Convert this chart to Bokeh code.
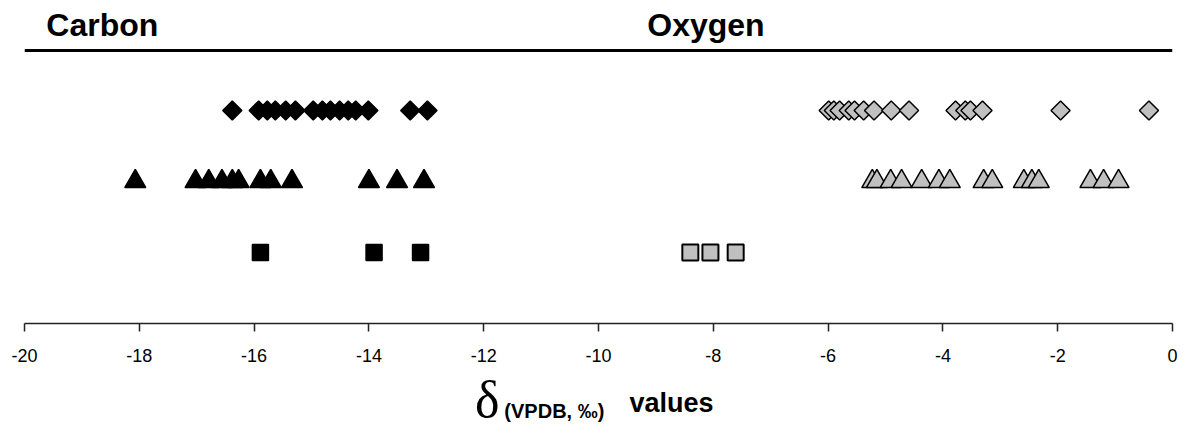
import numpy as np
from bokeh.plotting import figure
from bokeh.layouts import column
from bokeh.models import Span, Label, FixedTicker, Range1d
from bokeh.embed import file_html
from bokeh.resources import INLINE

# delta values (VPDB, permil) per sample group; rows: 3 = diamonds, 2 = triangles, 1 = squares
carbon_diamond = [-16.38, -15.92, -15.77, -15.63, -15.45, -15.28, -14.97, -14.81,
                  -14.67, -14.51, -14.36, -14.23, -14.01, -13.28, -12.98]
oxygen_diamond = [-5.99, -5.90, -5.80, -5.64, -5.54, -5.38, -5.20, -4.90, -4.59,
                  -3.78, -3.61, -3.52, -3.31, -1.95, -0.41]
carbon_triangle = [-18.07, -17.02, -16.79, -16.56, -16.38, -16.27, -15.89, -15.71,
                   -15.34, -14.00, -13.51, -13.04]
oxygen_triangle = [-5.23, -5.15, -4.91, -4.72, -4.37, -4.07, -3.88, -3.29, -3.14,
                   -2.59, -2.45, -2.33, -1.43, -1.20, -0.94]
carbon_square = [-15.89, -13.91, -13.10]
oxygen_square = [-8.40, -8.05, -7.61]

row_diamond, row_triangle, row_square = 3, 2, 1

tick_values = list(range(-20, 1, 2))
tick_labels = {t: str(t) for t in tick_values}

FONT = "Liberation Sans"
GREY = "#c0c0c0"

p = figure(width=1185, height=370, output_backend="svg", toolbar_location=None, tools="",
           x_range=Range1d(-20, 0), y_range=Range1d(0, 4.55), y_axis_location=None,
           min_border_left=24, min_border_right=13, min_border_top=0, min_border_bottom=47)
p.outline_line_color = None
p.grid.visible = False
p.background_fill_color = "white"
p.border_fill_color = "white"

ax = p.xaxis[0]
ax.ticker = FixedTicker(ticks=tick_values)
ax.major_label_overrides = tick_labels
ax.minor_tick_line_color = None
ax.major_tick_in = 0
ax.major_tick_out = 8
ax.major_tick_line_width = 1.5
ax.major_tick_line_color = "#222222"
ax.axis_line_width = 1.5
ax.axis_line_color = "#222222"
ax.major_label_text_font = FONT
ax.major_label_text_font_size = "18px"
ax.major_label_text_color = "black"
ax.major_label_standoff = 17

# heavy rule under the column headings
p.add_layout(Span(location=3.845, dimension="width", line_color="black", line_width=3))

def draw(xs, row, marker, size, fill, angle=0.0, lw=1.5):
    p.scatter(x=xs, y=[row] * len(xs), marker=marker, size=size, angle=angle,
              fill_color=fill, line_color="black", line_width=lw)

# diamonds drawn as squares rotated by 45 degrees
draw(carbon_diamond, row_diamond, "square", 13.5, "black", angle=np.pi / 4)
draw(oxygen_diamond, row_diamond, "square", 13.5, GREY, angle=np.pi / 4)
draw(carbon_triangle, row_triangle, "triangle", 21, "black")
draw(oxygen_triangle, row_triangle, "triangle", 21, GREY)
draw(carbon_square, row_square, "square", 16, "black")
draw(oxygen_square, row_square, "square", 16, GREY, lw=2)

# column headings
for txt, x in (("Carbon", -19.62), ("Oxygen", -9.15)):
    p.add_layout(Label(x=x, y=4.21, text=txt, text_font=FONT, text_font_size="32px",
                       text_font_style="bold", text_color="black", text_baseline="alphabetic"))

# strip under the axis holding the axis title; y counts pixels up from its bottom edge
cap = figure(width=1185, height=65, output_backend="svg", toolbar_location=None, tools="",
             x_range=p.x_range, y_range=Range1d(0, 65),
             x_axis_location=None, y_axis_location=None,
             min_border_left=24, min_border_right=13, min_border_top=0, min_border_bottom=0)
cap.outline_line_color = None
cap.grid.visible = False
cap.background_fill_color = "white"
cap.border_fill_color = "white"

cap.add_layout(Label(x=-12.15, y=36, text="δ", text_font="Liberation Serif",
                     text_font_size="52px", text_color="black", text_baseline="alphabetic"))
cap.add_layout(Label(x=-11.64, y=25, text="(VPDB, ‰)", text_font=FONT,
                     text_font_size="20px", text_font_style="bold", text_color="black",
                     text_baseline="alphabetic"))
cap.add_layout(Label(x=-9.46, y=33, text="values", text_font=FONT,
                     text_font_size="27px", text_font_style="bold", text_color="black",
                     text_baseline="alphabetic"))

layout = column(p, cap, spacing=0)
open("out.html", "w").write(file_html(layout, INLINE))
